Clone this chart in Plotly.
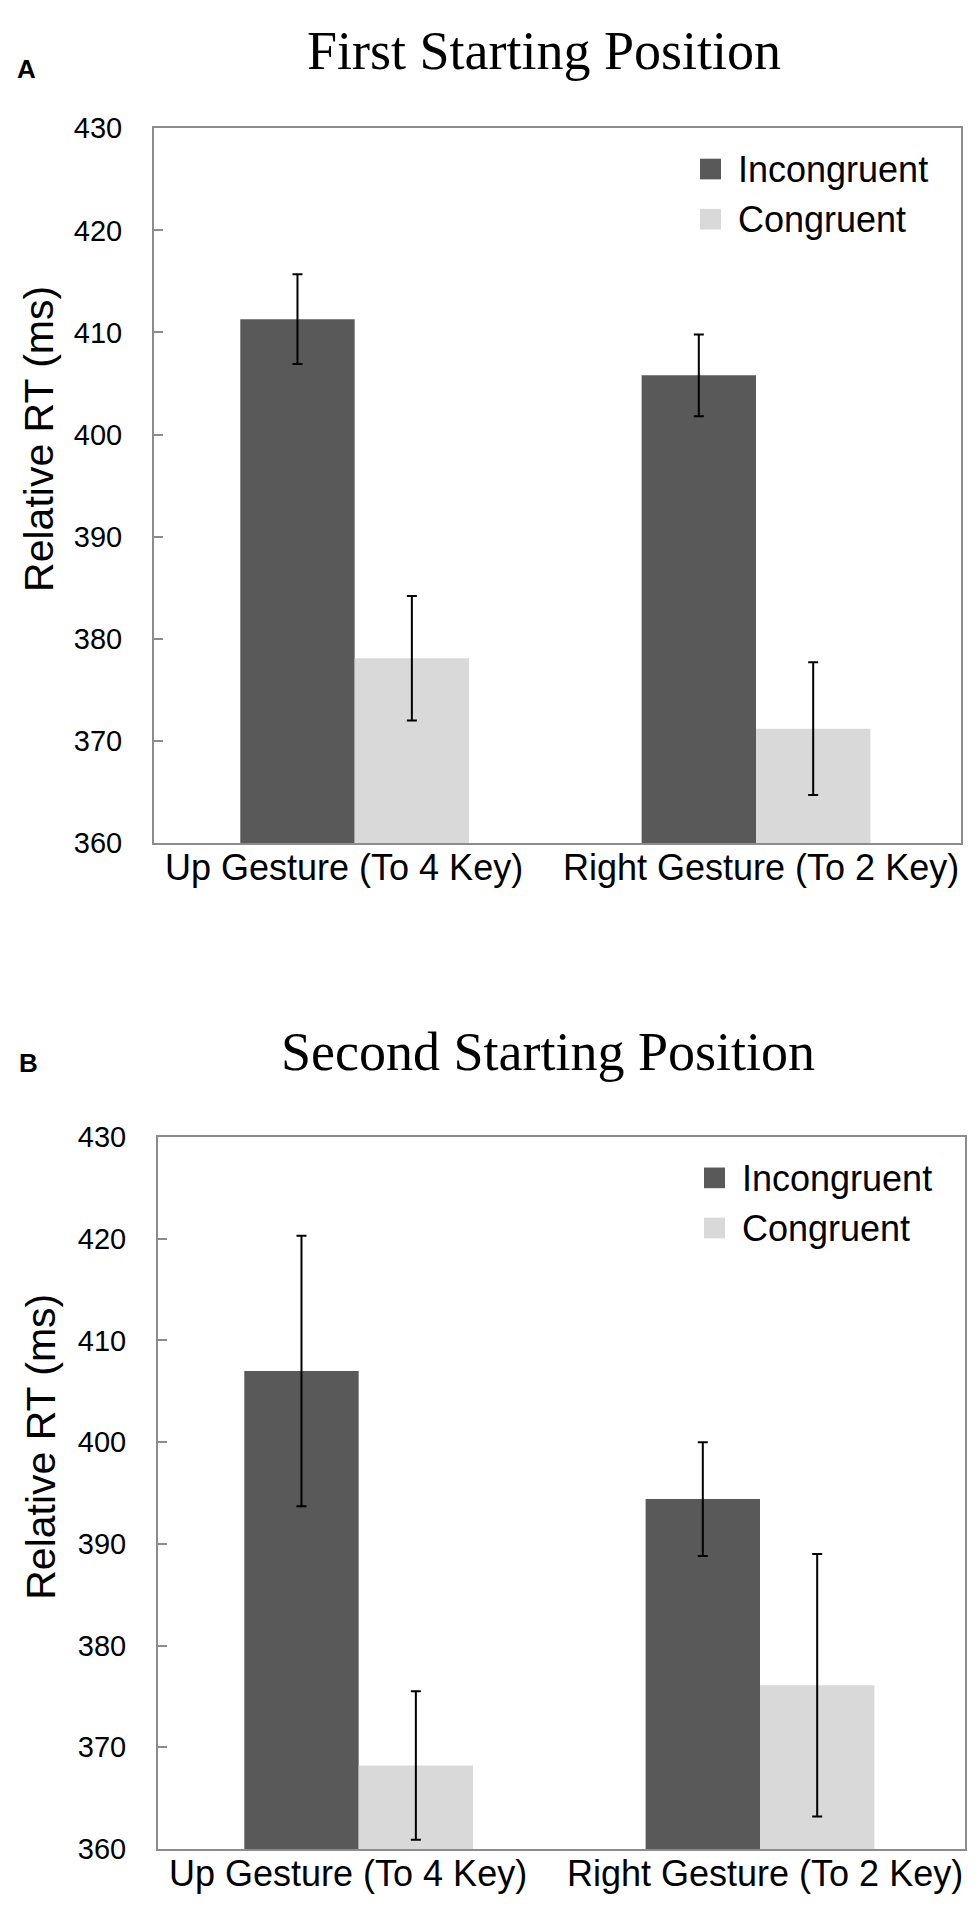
import plotly.graph_objects as go

# ---------------- data ----------------
categories = ["Up Gesture (To 4 Key)", "Right Gesture (To 2 Key)"]
series_names = ["Incongruent", "Congruent"]
series_colors = ["#595959", "#d9d9d9"]

a_incongruent = [411.3, 405.8]
a_incongruent_err = [4.4, 4.0]
a_congruent = [378.1, 371.2]
a_congruent_err = [6.1, 6.5]

b_incongruent = [407.0, 394.4]
b_incongruent_err = [13.3, 5.6]
b_congruent = [368.2, 376.1]
b_congruent_err = [7.3, 12.9]

panel_titles = ["First Starting Position", "Second Starting Position"]
panel_letters = ["A", "B"]
y_title = "Relative RT (ms)"
y_ticks = [360, 370, 380, 390, 400, 410, 420, 430]
y_range = [360, 430]

# ---------------- layout geometry (pixels) ----------------
W, H = 975, 1912
panels = [
    dict(left=146, right=953, top=106, bottom=833, title_y=27, letter=(18, 46), ytitle=(31, 422)),
    dict(left=150, right=957, top=1132, bottom=1856, title_y=1046, letter=(20, 1057), ytitle=(33, 1447)),
]
label_shift = [-11, 5]   # small horizontal offsets of the category labels


def px(x):
    return x / W


def py(y):
    return 1 - y / H


fig = go.Figure()

panel_data = [
    [(a_incongruent, a_incongruent_err), (a_congruent, a_congruent_err)],
    [(b_incongruent, b_incongruent_err), (b_congruent, b_congruent_err)],
]

for p, series in enumerate(panel_data):
    xa = "x" if p == 0 else "x2"
    ya = "y" if p == 0 else "y2"
    for s, (vals, errs) in enumerate(series):
        fig.add_trace(go.Bar(
            x=categories, y=vals, name=series_names[s],
            marker=dict(color=series_colors[s], line=dict(width=0)),
            error_y=dict(type="data", array=errs, visible=True,
                         color="#000000", thickness=2, width=5),
            xaxis=xa, yaxis=ya, showlegend=False,
        ))

annotations = []
shapes = []
axis_line = "#8c8c8c"

for p, g in enumerate(panels):
    sfx = "" if p == 0 else "2"
    fig.layout["xaxis" + sfx] = dict(
        domain=[px(g["left"]), px(g["right"])],
        anchor="y" + sfx,
        showline=True, linecolor=axis_line, linewidth=2, mirror=True,
        ticks="", showgrid=False, zeroline=False, showticklabels=False,
        categoryorder="array", categoryarray=categories,
    )
    fig.layout["yaxis" + sfx] = dict(
        domain=[py(g["bottom"]), py(g["top"])],
        anchor="x" + sfx,
        range=y_range, tickvals=y_ticks,
        showline=True, linecolor=axis_line, linewidth=2, mirror=True,
        ticks="inside", ticklen=9, tickwidth=2, tickcolor=axis_line,
        showgrid=False, zeroline=False,
        tickfont=dict(family="Liberation Sans, Arial", size=29, color="#000000"),
        ticklabelstandoff=24,
    )
    # category labels below the axis
    for c, cat in enumerate(categories):
        annotations.append(dict(
            text=cat, x=cat, xref="x" + sfx, y=py(g["bottom"] + 25), yref="paper",
            xanchor="center", yanchor="middle", xshift=label_shift[c], showarrow=False,
            font=dict(family="Liberation Sans, Arial", size=36, color="#000000"),
        ))
    # panel title
    annotations.append(dict(
        text=panel_titles[p], x=px(536 + (g["left"] - 146)), y=py(g["title_y"]),
        xref="paper", yref="paper", xanchor="center", yanchor="middle", showarrow=False,
        font=dict(family="Liberation Serif, Times New Roman", size=54, color="#000000"),
    ))
    # panel letter
    annotations.append(dict(
        text="<b>" + panel_letters[p] + "</b>", x=px(g["letter"][0]), y=py(g["letter"][1]),
        xref="paper", yref="paper", xanchor="center", yanchor="middle", showarrow=False,
        font=dict(family="Liberation Sans, Arial", size=26, color="#000000"),
    ))
    # y title
    annotations.append(dict(
        text=y_title, x=px(g["ytitle"][0]), y=py(g["ytitle"][1]), textangle=-90,
        xref="paper", yref="paper", xanchor="center", yanchor="middle", showarrow=False,
        font=dict(family="Liberation Sans, Arial", size=41, color="#000000"),
    ))
    # legend (manual, large squares)
    for s, name in enumerate(series_names):
        top = g["top"] + 31 + 51 * s
        shapes.append(dict(
            type="rect", xref="paper", yref="paper",
            x0=px(g["right"] - 261), x1=px(g["right"] - 240),
            y0=py(top + 21), y1=py(top),
            fillcolor=series_colors[s], line=dict(width=0),
        ))
        annotations.append(dict(
            text=name, x=px(g["right"] - 225), y=py(top + 11),
            xref="paper", yref="paper", xanchor="left", yanchor="middle", showarrow=False,
            font=dict(family="Liberation Sans, Arial", size=36, color="#000000"),
        ))

fig.update_layout(
    width=W, height=H, autosize=False,
    margin=dict(l=0, r=0, t=0, b=0),
    paper_bgcolor="#ffffff", plot_bgcolor="#ffffff",
    barmode="group", bargap=0.43, bargroupgap=0,
    annotations=annotations, shapes=shapes,
    showlegend=False,
)

fig.write_html("out.html")
